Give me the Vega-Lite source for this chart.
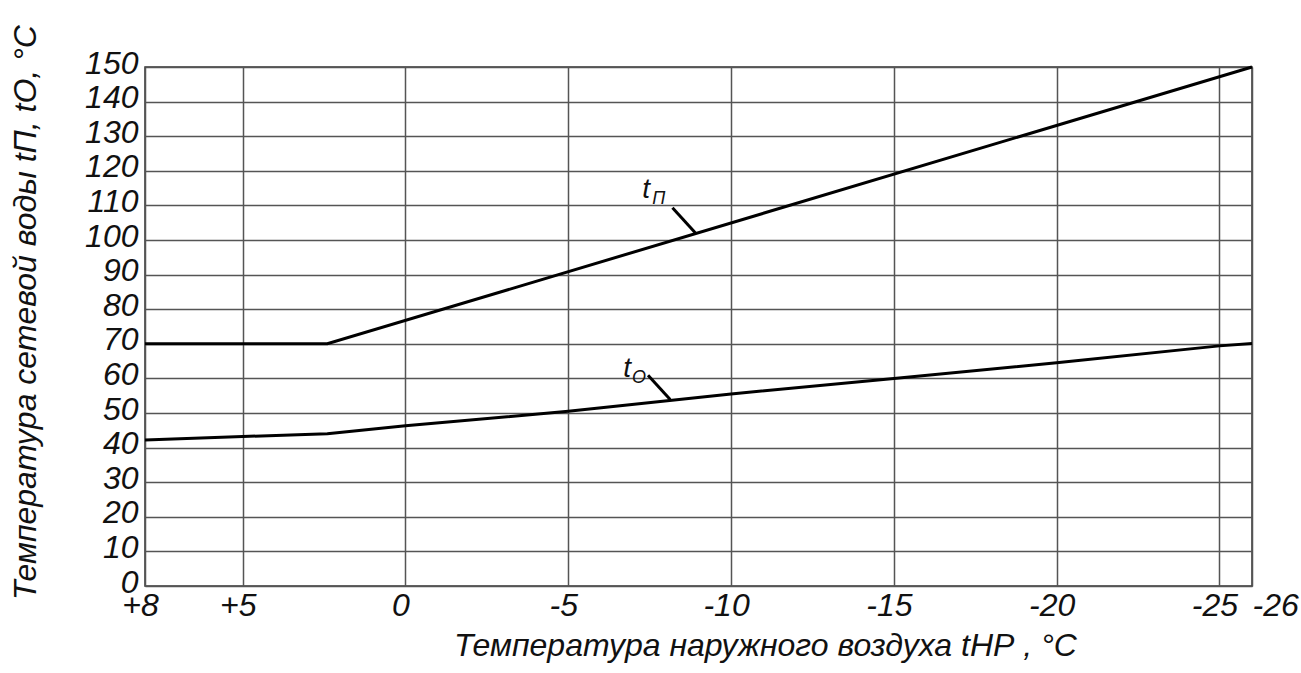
{
  "$schema": "https://vega.github.io/schema/vega-lite/v6.json",
  "autosize": {"type": "none"},
  "padding": {"left": 145, "top": 67, "right": 49, "bottom": 87},
  "width": 1107,
  "height": 519,
  "background": "white",
  "config": {
    "view": {"stroke": "#333", "strokeWidth": 1.5},
    "font": "Liberation Sans",
    "axis": {"labelOverlap": false}
  },
  "datasets": {
    "lines": [
      {"series": "tП", "x": 8, "y": 70},
      {"series": "tП", "x": 2.4, "y": 70},
      {"series": "tП", "x": -26, "y": 150},
      {"series": "tО", "x": 8, "y": 42.2},
      {"series": "tО", "x": 5, "y": 43.2},
      {"series": "tО", "x": 2.4, "y": 44.0},
      {"series": "tО", "x": 0, "y": 46.3},
      {"series": "tО", "x": -5, "y": 50.5},
      {"series": "tО", "x": -10, "y": 55.5},
      {"series": "tО", "x": -15, "y": 60.0},
      {"series": "tО", "x": -20, "y": 64.5},
      {"series": "tО", "x": -25, "y": 69.4},
      {"series": "tО", "x": -26, "y": 70.1}
    ],
    "leaders": [
      {"x": -8.2, "y": 109.3, "x2": -8.9, "y2": 102.1},
      {"x": -7.45, "y": 60.9, "x2": -8.13, "y2": 53.9}
    ],
    "mainLabels": [
      {"x": -7.27, "y": 112.2, "text": "t"},
      {"x": -6.69, "y": 60.3, "text": "t"}
    ],
    "subLabels": [
      {"x": -7.58, "y": 110.5, "text": "П"},
      {"x": -6.96, "y": 58.8, "text": "О"}
    ]
  },
  "encoding": {
    "x": {
      "field": "x", "type": "quantitative",
      "scale": {"domain": [-26, 8], "reverse": true, "nice": false, "zero": false},
      "axis": {
        "values": [8, 5, 0, -5, -10, -15, -20, -25, -26],
        "labelExpr": "datum.value > 0 ? '+' + datum.value : '' + datum.value",
        "grid": true, "gridColor": "#555", "gridWidth": 1.5,
        "domain": false, "ticks": false,
        "labelFont": "Liberation Sans", "labelFontStyle": "italic", "labelFontSize": 32,
        "labelColor": "#111", "labelBaseline": "top", "labelPadding": 4,
        "labelAlign": {"condition": {"test": "datum.value == -26", "value": "left"}, "value": "center"},
        "labelOffset": {"condition": {"test": "datum.value == -26", "value": 0}, "value": -5},
        "labelOverlap": false, "labelFlush": false,
        "title": "Температура наружного воздуха tНР , °C",
        "titleFont": "Liberation Sans", "titleFontStyle": "italic", "titleFontWeight": "normal",
        "titleFontSize": 32, "titleColor": "#111",
        "titleX": 620, "titleY": 69, "titleBaseline": "alphabetic", "titleAlign": "center"
      }
    },
    "y": {
      "field": "y", "type": "quantitative",
      "scale": {"domain": [0, 150], "nice": false},
      "axis": {
        "values": [0, 10, 20, 30, 40, 50, 60, 70, 80, 90, 100, 110, 120, 130, 140, 150],
        "grid": true, "gridColor": "#555", "gridWidth": 1.5,
        "domain": false, "ticks": false,
        "labelFont": "Liberation Sans", "labelFontStyle": "italic", "labelFontSize": 32,
        "labelColor": "#111", "labelPadding": 7, "labelOffset": -4,
        "labelOverlap": false, "labelFlush": false,
        "title": "Температура сетевой воды tП, tО, °C",
        "titleFont": "Liberation Sans", "titleFontStyle": "italic", "titleFontWeight": "normal",
        "titleFontSize": 32, "titleColor": "#111",
        "titleAngle": 270, "titleX": -110, "titleY": 245, "titleBaseline": "alphabetic", "titleAlign": "center"
      }
    }
  },
  "layer": [
    {
      "data": {"name": "lines"},
      "mark": {"type": "line", "color": "black", "strokeWidth": 3},
      "encoding": {
        "detail": {"field": "series", "type": "nominal"}
      }
    },
    {
      "data": {"name": "leaders"},
      "mark": {"type": "rule", "color": "black", "strokeWidth": 3},
      "encoding": {
        "x2": {"field": "x2"},
        "y2": {"field": "y2"}
      }
    },
    {
      "data": {"name": "mainLabels"},
      "mark": {"type": "text", "font": "Liberation Sans", "fontStyle": "italic", "fontSize": 28, "align": "left", "baseline": "alphabetic", "color": "#111"},
      "encoding": {
        "text": {"field": "text"}
      }
    },
    {
      "data": {"name": "subLabels"},
      "mark": {"type": "text", "font": "Liberation Sans", "fontStyle": "italic", "fontSize": 18, "align": "left", "baseline": "alphabetic", "color": "#111"},
      "encoding": {
        "text": {"field": "text"}
      }
    }
  ]
}
